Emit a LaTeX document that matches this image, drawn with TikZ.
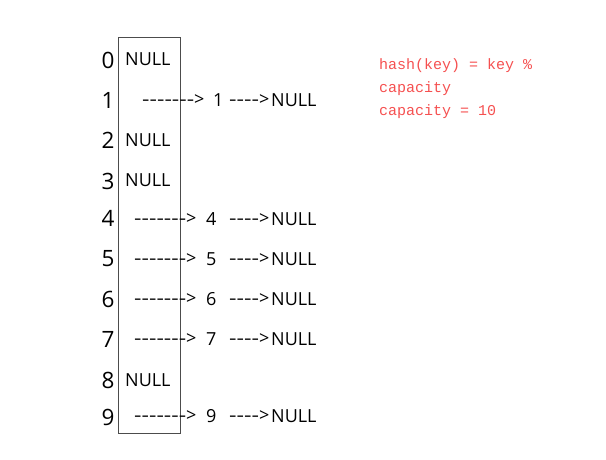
\documentclass[tikz,border=0pt]{standalone}
\usepackage{fontspec}
\setmainfont{Open Sans}[Ligatures=TeXOff]
\newfontfamily\monofont{Liberation Mono}[Ligatures=TeXOff]
\definecolor{redtxt}{RGB}{245,80,80}
\newcommand{\longarr}{\resizebox{52pt}{\height}{-------}>}
\newcommand{\shortarr}{\resizebox{30pt}{\height}{----}>}
\begin{document}
\begin{tikzpicture}[x=1pt,y=-1pt,
  idx/.style={inner sep=0pt,font=\fontsize{22.5}{22.5}\selectfont},
  cell/.style={anchor=west,inner sep=0pt,font=\fontsize{18}{18}\selectfont},
  note/.style={anchor=north west,inner sep=0pt,text=redtxt,align=left,font=\monofont\fontsize{15}{23}\selectfont}]
\useasboundingbox (0,0) rectangle (606,459);
\node[draw=black!70,line width=0.8pt,minimum width=62pt,minimum height=396pt,inner sep=0pt] (box) at (149,235) {};
\foreach \i/\y in {0/60,1/100,2/140,3/181,4/218,5/259,6/299,7/339,8/380,9/417}{
  \node[idx] (i\i) at (108,\y) {\i};
}
\node[cell] (n0) at (125,59) {NULL};
\node[cell] (n2) at (125,140) {NULL};
\node[cell] (n3) at (125,180) {NULL};
\node[cell] (n8) at (125,380) {NULL};
\node[cell] (a1) at (142,100) {\longarr};
\node[cell] (v1) at (213,100) {1};
\node[cell] (b1) at (229,100) {\shortarr};
\node[cell] (e1) at (271,100) {NULL};
\foreach \i/\y in {4/219,5/259,6/299,7/339,9/416}{
  \node[cell] (a\i) at (134,\y) {\longarr};
  \node[cell] (v\i) at (206,\y) {\i};
  \node[cell] (b\i) at (229,\y) {\shortarr};
  \node[cell] (e\i) at (271,\y) {NULL};
}
\node[note] (hash) at (379,58) {hash(key) = key \%\\capacity\\capacity = 10};
\end{tikzpicture}
\end{document}
